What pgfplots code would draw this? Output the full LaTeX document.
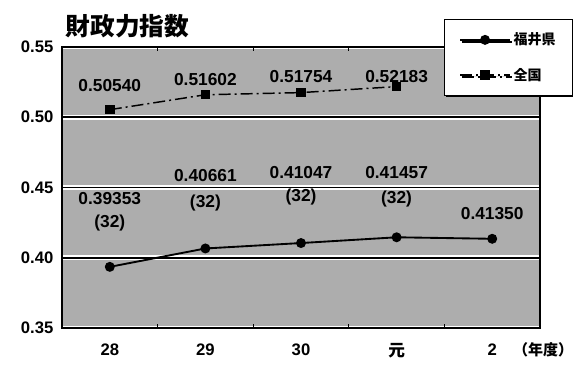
\documentclass[border=0pt]{standalone}
\usepackage{pgfplots}
\pgfplotsset{compat=1.18}
\usepackage{fontspec}
\setmainfont{Liberation Sans}
\newfontfamily\cjk{Noto Sans CJK JP}
\usetikzlibrary{shadows}

\begin{document}
\begin{tikzpicture}
\useasboundingbox (-46.5pt,-27.75pt) rectangle (383.25pt,246pt);
\begin{axis}[
  at={(0,0)}, anchor=south west,
  scale only axis, width=358.5pt, height=210.75pt,
  xmin=-0.5, xmax=4.5, ymin=0.35, ymax=0.55,
  xtick={0,1,2,3,4},
  xticklabels={28,29,30,{\cjk\bfseries 元},2},
  minor xtick={0.5,1.5,2.5,3.5},
  ytick={0.35,0.40,0.45,0.50,0.55},
  yticklabel style={/pgf/number format/fixed, /pgf/number format/fixed zerofill,
    /pgf/number format/precision=2, /pgf/number format/assume math mode=true, xshift=-3pt},
  tick label style={font=\fontsize{12.5}{13}\selectfont\bfseries},
  xticklabel style={yshift=-8pt},
  major tick length=0pt, minor tick length=3pt, tick align=inside,
  minor tick style={black, line width=0.8pt},
  ymajorgrids,
  major grid style={black, line width=1.2pt, preaction={draw=white, line width=3.4pt}},
  axis line style={black, line width=1.2pt},
  axis background/.style={fill=black!32},
  clip=false,
  legend style={at={(rel axis cs:0.799,1.0996)}, anchor=north west,
    draw=black, line width=0.8pt, fill=white,
    font=\fontsize{10.5}{12}\selectfont\cjk\bfseries,
    row sep=12pt, inner xsep=11pt, inner ysep=8pt,
    drop shadow={shadow xshift=1.3pt, shadow yshift=-1.3pt, fill=black, opacity=1}},
  legend cell align=left,
  legend image code/.code={\draw[mark repeat=2, mark phase=2, #1] plot coordinates {(0pt,0pt) (18.75pt,0pt) (37.5pt,0pt)};},
]
% Fukui Prefecture
\addplot[black, line width=1.4pt, mark=*, mark size=3pt]
  coordinates {(0,0.39353) (1,0.40661) (2,0.41047) (3,0.41457) (4,0.41350)};
\addlegendentry{福井県}
% National average
\addplot[black, line width=1.1pt, dash pattern=on 9pt off 3pt on 1.5pt off 3pt,
  mark=square*, mark size=3pt, mark options={solid}]
  coordinates {(0,0.50540) (1,0.51602) (2,0.51754) (3,0.52183)};
\addlegendentry{全国}

% value labels
\begin{scope}[every node/.style={font=\fontsize{13}{13}\selectfont\bfseries}]
\node at (axis cs:0,0.5229) {0.50540};
\node at (axis cs:1,0.5271) {0.51602};
\node at (axis cs:2,0.5293) {0.51754};
\node at (axis cs:3,0.5293) {0.52183};
\node at (axis cs:0,0.4421) {0.39353};
\node at (axis cs:0,0.4250) {(32)};
\node at (axis cs:1,0.4586) {0.40661};
\node at (axis cs:1,0.4393) {(32)};
\node at (axis cs:2,0.4607) {0.41047};
\node at (axis cs:2,0.4429) {(32)};
\node at (axis cs:3,0.4607) {0.41457};
\node at (axis cs:3,0.4421) {(32)};
\node at (axis cs:4,0.4314) {0.41350};
\end{scope}
\end{axis}
\node[font=\fontsize{18.5}{19}\selectfont\cjk\bfseries] at (49.1pt,226.5pt) {財政力指数};
\node[font=\fontsize{11.25}{12}\selectfont\cjk\bfseries] at (360.75pt,-16.5pt) {（年度）};
\end{tikzpicture}
\end{document}
